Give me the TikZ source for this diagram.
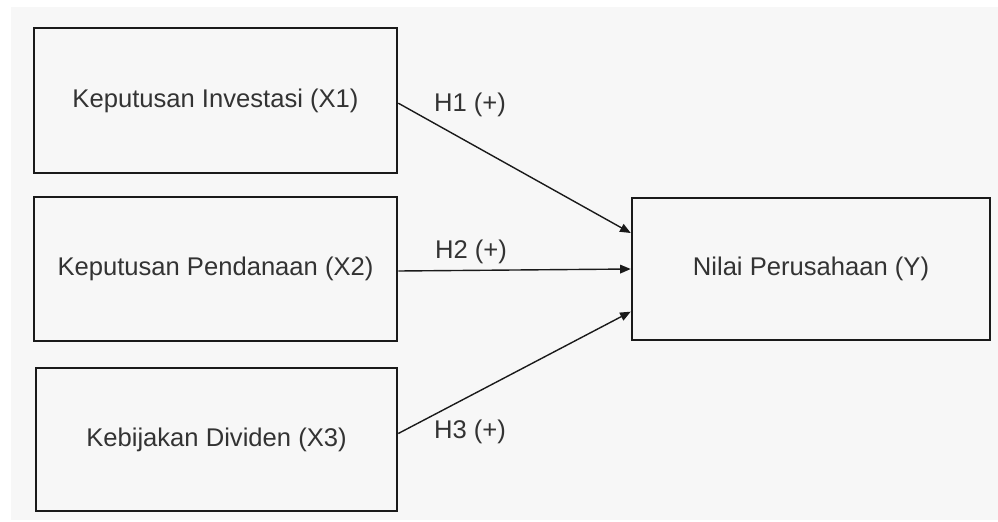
\documentclass[tikz,border=0pt]{standalone}
\usepackage{fontspec}
\setmainfont{Liberation Sans}
\usetikzlibrary{arrows.meta}
\definecolor{bgray}{HTML}{F7F7F7}
\definecolor{txt}{HTML}{333333}
\definecolor{edge}{HTML}{1A1A1A}
\tikzset{
  varbox/.style={draw=edge, line width=1.9pt, fill=bgray, inner sep=0pt,
    font=\fontsize{19.2}{23}\selectfont, text=txt},
  hyp/.style={font=\fontsize{19.2}{23}\selectfont, text=txt, inner sep=0pt},
  link/.style={draw=edge, line width=1.05pt, -{Triangle[length=8pt,width=6.5pt]}}
}
\begin{document}
\begin{tikzpicture}[x=0.75pt,y=-0.75pt]
\useasboundingbox (0,0) rectangle (998,521);
\fill[bgray] (11,7) rectangle (998,520);
\node[varbox, minimum width=363*0.75pt, minimum height=145*0.75pt] (x1) at (215.5,100.5) {Keputusan Investasi (X1)};
\node[varbox, minimum width=363*0.75pt, minimum height=144*0.75pt] (x2) at (215.5,269) {Keputusan Pendanaan (X2)};
\node[varbox, minimum width=361*0.75pt, minimum height=143*0.75pt] (x3) at (216.5,439.5) {Kebijakan Dividen (X3)};
\node[varbox, minimum width=358*0.75pt, minimum height=142*0.75pt] (y) at (811,269) {Nilai Perusahaan (Y)};
\coordinate (e1) at ([yshift=27pt]y.west);
\coordinate (e2) at (y.west);
\coordinate (e3) at ([yshift=-32pt]y.west);
\draw[link] ([yshift=-2pt]x1.east) -- (e1);
\draw[link] ([yshift=-1.5pt]x2.east) -- (e2);
\draw[link] ([yshift=4.5pt]x3.east) -- (e3);
\node[hyp] (h1) at (470,105) {H1 (+)};
\node[hyp] (h2) at (471,252) {H2 (+)};
\node[hyp] (h3) at (470,432) {H3 (+)};
\end{tikzpicture}
\end{document}
